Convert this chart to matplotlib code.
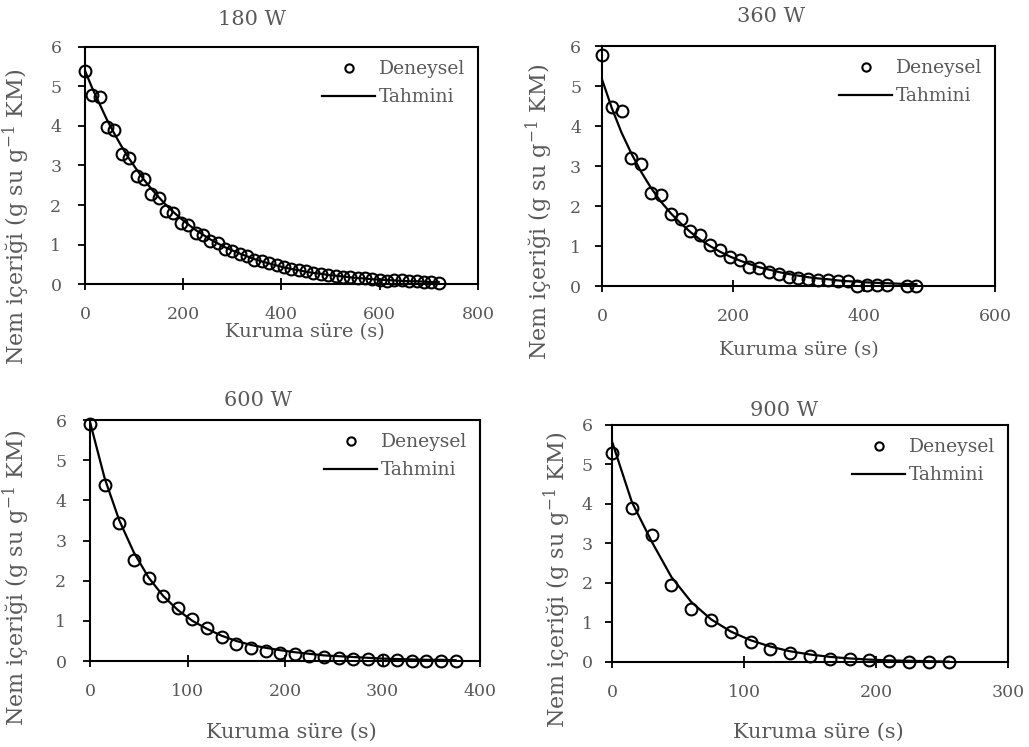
import matplotlib
matplotlib.use("Agg")
import matplotlib.pyplot as plt

plt.rcParams['font.family'] = ['DejaVu Serif']
plt.rcParams['mathtext.fontset'] = 'dejavuserif'

GREY = '#595959'

# 180 W
t_180 = [0, 15, 30, 45, 60, 75, 90, 105, 120, 135, 150, 165, 180, 195, 210,
         225, 240, 255, 270, 285, 300, 315, 330, 345, 360, 375, 390, 405, 420,
         435, 450, 465, 480, 495, 510, 525, 540, 555, 570, 585, 600, 615, 630,
         645, 660, 675, 690, 705, 720]
exp_180 = [5.39, 4.78, 4.73, 3.98, 3.90, 3.28, 3.20, 2.73, 2.65, 2.27, 2.17,
           1.86, 1.79, 1.55, 1.49, 1.28, 1.23, 1.08, 1.03, 0.89, 0.84, 0.75,
           0.71, 0.62, 0.59, 0.52, 0.48, 0.42, 0.39, 0.35, 0.32, 0.29, 0.26,
           0.24, 0.21, 0.19, 0.17, 0.15, 0.14, 0.12, 0.10, 0.08, 0.09, 0.09,
           0.08, 0.07, 0.06, 0.04, 0.02]
model_180 = [5.40, 4.95, 4.55, 4.15, 3.80, 3.47, 3.17, 2.90, 2.64, 2.41, 2.20,
             2.00, 1.82, 1.66, 1.51, 1.37, 1.25, 1.13, 1.03, 0.93, 0.85, 0.77,
             0.70, 0.63, 0.57, 0.52, 0.47, 0.42, 0.38, 0.35, 0.31, 0.28, 0.26,
             0.23, 0.21, 0.19, 0.17, 0.15, 0.14, 0.12, 0.11, 0.10, 0.09, 0.08,
             0.07, 0.07, 0.06, 0.05, 0.05]

# 360 W
t_360 = [0, 15, 30, 45, 60, 75, 90, 105, 120, 135, 150, 165, 180, 195, 210,
         225, 240, 255, 270, 285, 300, 315, 330, 345, 360, 375, 390, 405, 420,
         435, 465, 480]
exp_360 = [5.78, 4.48, 4.37, 3.19, 3.04, 2.32, 2.28, 1.80, 1.67, 1.38, 1.28,
           1.03, 0.90, 0.73, 0.65, 0.48, 0.46, 0.34, 0.30, 0.23, 0.21, 0.18,
           0.16, 0.14, 0.13, 0.12, 0.01, 0.02, 0.02, 0.02, 0.00, 0.00]
tm_360 = [0, 15, 30, 45, 60, 75, 90, 105, 120, 135, 150, 165, 180, 195, 210,
          225, 240, 255, 270, 285, 300, 315, 330, 345, 360, 375, 390, 405, 420,
          435, 450, 465, 480]
model_360 = [5.17, 4.45, 3.83, 3.31, 2.85, 2.45, 2.11, 1.82, 1.57, 1.35, 1.16,
             1.00, 0.86, 0.74, 0.64, 0.55, 0.47, 0.41, 0.35, 0.30, 0.26, 0.22,
             0.19, 0.17, 0.14, 0.12, 0.11, 0.09, 0.08, 0.07, 0.06, 0.05, 0.05]

# 600 W
t_600 = [0, 15, 30, 45, 60, 75, 90, 105, 120, 135, 150, 165, 180, 195, 210,
         225, 240, 255, 270, 285, 300, 315, 330, 345, 360, 375]
exp_600 = [5.89, 4.39, 3.44, 2.51, 2.07, 1.61, 1.33, 1.04, 0.83, 0.59, 0.43,
           0.32, 0.25, 0.21, 0.17, 0.13, 0.10, 0.08, 0.06, 0.04, 0.03, 0.02,
           0.01, 0.01, 0.00, 0.00]
model_600 = [5.95, 4.55, 3.50, 2.70, 2.08, 1.62, 1.27, 1.00, 0.80, 0.63, 0.50,
             0.40, 0.33, 0.27, 0.22, 0.18, 0.14, 0.12, 0.10, 0.08, 0.06, 0.05,
             0.04, 0.03, 0.03, 0.02]

# 900 W
t_900 = [0, 15, 30, 45, 60, 75, 90, 105, 120, 135, 150, 165, 180, 195, 210,
         225, 240, 255]
exp_900 = [5.28, 3.91, 3.22, 1.95, 1.34, 1.07, 0.77, 0.51, 0.33, 0.24, 0.16,
           0.08, 0.07, 0.04, 0.03, 0.01, 0.00, 0.00]
model_900 = [5.58, 4.05, 3.05, 2.15, 1.52, 1.08, 0.77, 0.55, 0.39, 0.27, 0.19,
             0.13, 0.09, 0.06, 0.04, 0.03, 0.02, 0.01]

titles = ["180 W", "360 W", "600 W", "900 W"]
xmax = [800, 600, 400, 300]
xstep = [200, 200, 100, 100]

x_label = "Kuruma süre (s)"
y_label = "Nem içeriği (g su g$^{\\mathregular{-1}}$ KM)"


def draw_panel(ax, t, y, tm, ym, title, xm, xs, layout):
    """Draw one drying curve panel."""
    ax.plot(tm, ym, color='black', lw=1.6, label='Tahmini', zorder=2)
    ax.plot(t, y, 'o', ms=8.5, mfc='none', mec='black', mew=1.5,
            label='Deneysel', clip_on=False, zorder=3)
    ax.set_xlim(0, xm)
    ax.set_ylim(0, 6)
    ax.set_xticks(range(0, xm + 1, xs))
    ax.set_yticks(range(0, 7))
    for s in ax.spines.values():
        s.set_linewidth(1.5)
        s.set_color('black')
    xl_fs, xl_x, xl_y, yl_x, yl_y, ti_x, ti_y, ypad = layout
    ax.tick_params(axis='x', direction='inout', length=8, width=1.3,
                   pad=12, labelsize=12.5, labelcolor=GREY)
    ax.tick_params(axis='y', direction='out', length=5, width=1.3,
                   pad=ypad, labelsize=12.5, labelcolor=GREY)
    ax.set_xlabel(x_label, fontsize=xl_fs, color=GREY)
    ax.xaxis.set_label_coords(xl_x, xl_y)
    ax.set_ylabel(y_label, fontsize=16, color=GREY)
    ax.yaxis.set_label_coords(yl_x, yl_y)
    ax.text(ti_x, ti_y, title, transform=ax.transAxes, ha='center',
            va='center', fontsize=15, color=GREY)
    h, lab = ax.get_legend_handles_labels()
    ax.legend(h[::-1], lab[::-1], loc='upper right', frameon=False,
              fontsize=13.5, handlelength=2.8, handletextpad=0.2,
              labelspacing=0.55, markerscale=0.7, borderaxespad=0.3,
              labelcolor=GREY)


def main():
    fig = plt.figure(figsize=(10.29, 7.47), dpi=100)
    rects = [[0.0826, 0.6198, 0.3819, 0.3173],
             [0.5850, 0.6171, 0.3819, 0.3213],
             [0.0875, 0.1151, 0.3790, 0.3226],
             [0.5948, 0.1138, 0.3848, 0.3173]]
    layouts = [(14, 0.56, -0.165, -0.135, 0.283, 0.425, 1.118, 12),
               (14, 0.50, -0.229, -0.120, 0.308, 0.43, 1.121, 10),
               (15, 0.515, -0.257, -0.149, 0.344, 0.43, 1.083, 12),
               (15, 0.52, -0.257, -0.098, 0.346, 0.434, 1.063, 9)]
    series = [(t_180, exp_180, t_180, model_180),
              (t_360, exp_360, tm_360, model_360),
              (t_600, exp_600, t_600, model_600),
              (t_900, exp_900, t_900, model_900)]
    for i in range(4):
        ax = fig.add_axes(rects[i])
        t, y, tm, ym = series[i]
        draw_panel(ax, t, y, tm, ym, titles[i], xmax[i], xstep[i],
                   layouts[i])
    fig.savefig("out.png", dpi=100)


if __name__ == "__main__":
    main()
